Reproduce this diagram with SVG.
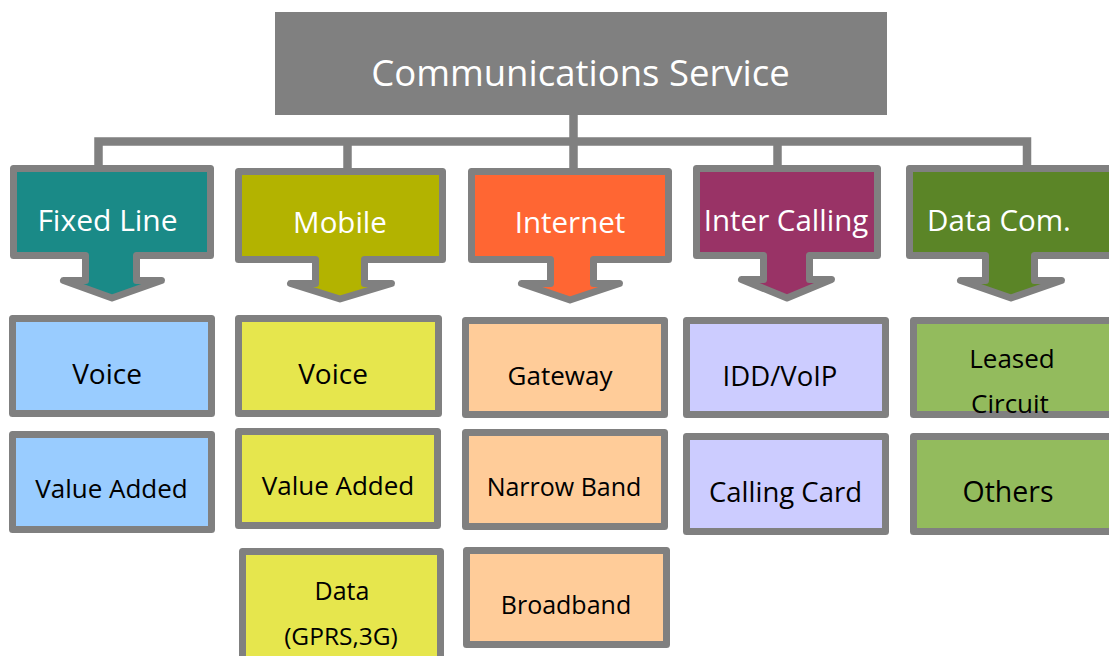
<svg xmlns="http://www.w3.org/2000/svg" width="1109" height="656" viewBox="0 0 1109 656">
<style>
text{font-family:"Open Sans","DejaVu Sans",sans-serif;text-anchor:middle;dominant-baseline:central}
.hd{fill:#fff;font-size:29.5px}
.sb{fill:#000;font-size:26px}
.big{font-size:28px}
.frame{stroke:#808080;stroke-width:7;stroke-linejoin:round}
.conn{fill:none;stroke:#808080;stroke-width:8.5}
</style>
<rect width="1109" height="656" fill="#fff"/>
<g id="connectors">
<line class="conn" x1="573.5" y1="114" x2="573.5" y2="170"/>
<polyline class="conn" points="98.5,170 98.5,141.5 1027,141.5 1027,170"/>
<line class="conn" x1="347.5" y1="141.5" x2="347.5" y2="170"/>
<line class="conn" x1="777.5" y1="141.5" x2="777.5" y2="170"/>
</g>
<g id="root">
<rect x="275" y="12" width="612" height="103" fill="#808080"/>
<text x="580.5" y="72" fill="#fff" style="font-size:36.5px">Communications Service</text>
</g>
<g id="fixed-line">
<path class="frame" fill="#1a8a87" d="M13.5,168.5H210.5V255.5H136.5V280.5H161.5L112,298L63.5,280.5H85.5V255.5H13.5Z"/>
<text class="hd" x="107.5" y="219" style="font-size:30px">Fixed Line</text>
</g>
<g id="mobile">
<path class="frame" fill="#b3b300" d="M238.5,171.5H442.5V259.5H364.5V283.5H391.5L340,299L290.5,283.5H315.5V259.5H238.5Z"/>
<text class="hd" x="340" y="221">Mobile</text>
</g>
<g id="internet">
<path class="frame" fill="#ff6633" d="M471.5,171.5H668.5V259.5H593.5V283.5H619.5L570,300L521.5,283.5H550.5V259.5H471.5Z"/>
<text class="hd" x="570" y="221">Internet</text>
</g>
<g id="inter-calling">
<path class="frame" fill="#993366" d="M696.5,168.5H877.5V255.5H809.5V279.5H831.5L787,298L741.5,279.5H763.5V255.5H696.5Z"/>
<text class="hd" x="786" y="219">Inter Calling</text>
</g>
<g id="data-com">
<path class="frame" fill="#5b8527" d="M909.5,168.5H1115V255.5H1034.5V280.5H1061.5L1011,298L960.5,280.5H985.5V255.5H909.5Z"/>
<text class="hd" x="999" y="219">Data Com.</text>
</g>
<g id="fixed-voice">
<rect class="frame" fill="#99ccff" x="12.5" y="318.5" width="199" height="95"/>
<text class="sb big" x="107" y="373">Voice</text>
</g>
<g id="fixed-value-added">
<rect class="frame" fill="#99ccff" x="12.5" y="434.5" width="199" height="95"/>
<text class="sb" x="111.5" y="488">Value Added</text>
</g>
<g id="mobile-voice">
<rect class="frame" fill="#e6e64d" x="238.5" y="318.5" width="200" height="95"/>
<text class="sb big" x="333" y="373">Voice</text>
</g>
<g id="mobile-value-added">
<rect class="frame" fill="#e6e64d" x="238.5" y="431.5" width="199" height="94"/>
<text class="sb" x="338" y="485">Value Added</text>
</g>
<g id="mobile-data">
<rect class="frame" fill="#e6e64d" x="242.5" y="551.5" width="198" height="120"/>
<text class="sb" x="342" y="590" style="font-size:25px">Data</text>
<text class="sb" x="341" y="635" style="font-size:24.5px">(GPRS,3G)</text>
</g>
<g id="internet-gateway">
<rect class="frame" fill="#ffcc99" x="465.5" y="320.5" width="199" height="94"/>
<text class="sb" x="560" y="375">Gateway</text>
</g>
<g id="internet-narrow-band">
<rect class="frame" fill="#ffcc99" x="465.5" y="432.5" width="199" height="94"/>
<text class="sb" x="564" y="486" style="font-size:25px">Narrow Band</text>
</g>
<g id="internet-broadband">
<rect class="frame" fill="#ffcc99" x="466.5" y="550.5" width="200" height="94"/>
<text class="sb" x="566" y="604" style="font-size:25px">Broadband</text>
</g>
<g id="idd-voip">
<rect class="frame" fill="#ccccff" x="686.5" y="320.5" width="199" height="94"/>
<text class="sb" x="780" y="375" style="font-size:27.5px">IDD/VoIP</text>
</g>
<g id="calling-card">
<rect class="frame" fill="#ccccff" x="686.5" y="436.5" width="199" height="95"/>
<text class="sb" x="785.5" y="491" style="font-size:27.5px">Calling Card</text>
</g>
<g id="leased-circuit">
<rect class="frame" fill="#93bb5d" x="913.5" y="320.5" width="205" height="94"/>
<text class="sb" x="1012" y="358">Leased</text>
<text class="sb" x="1010" y="403">Circuit</text>
</g>
<g id="others">
<rect class="frame" fill="#93bb5d" x="913.5" y="436.5" width="205" height="95"/>
<text class="sb" x="1008" y="491" style="font-size:28.5px">Others</text>
</g>
</svg>
